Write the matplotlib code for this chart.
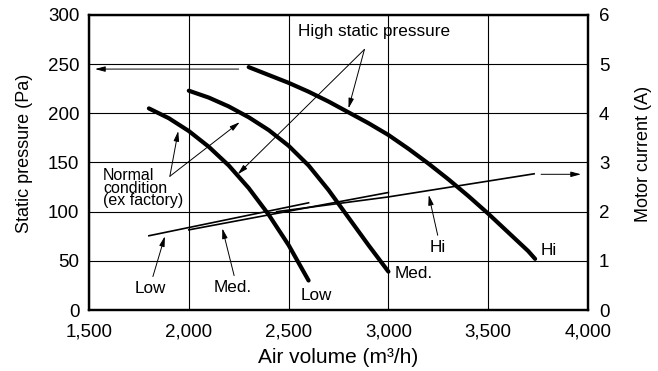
import matplotlib
matplotlib.use("Agg")
import matplotlib.pyplot as plt

# =========================
# DATA
# =========================
# fan curves: air volume (m3/h) vs static pressure (Pa)
low_air = [1800, 1900, 2000, 2100, 2200, 2300, 2400, 2500, 2600]
low_pressure = [205, 195, 182, 166, 147, 124, 97, 66, 30]

med_air = [2000, 2100, 2200, 2300, 2400, 2500, 2600, 2700, 2800, 2900, 3000]
med_pressure = [223, 216, 207, 196, 183, 167, 147, 122, 94, 66, 39]

hi_air = [2300, 2400, 2500, 2600, 2700, 2800, 2900, 3000, 3100, 3200, 3300,
          3400, 3500, 3600, 3700, 3735]
hi_pressure = [247, 239, 231, 222, 212, 201, 190, 178, 164, 149, 133,
               116, 98, 79, 60, 52]

# motor current (A)
low_cur_air = [1800, 2600]
low_current = [1.51, 2.18]

med_cur_air = [2000, 3000]
med_current = [1.63, 2.39]

hi_cur_air = [2440, 3000, 3730]
hi_current = [2.00, 2.30, 2.77]

x_ticks = [1500, 2000, 2500, 3000, 3500, 4000]
y_ticks = [0, 50, 100, 150, 200, 250, 300]
y2_ticks = [0, 1, 2, 3, 4, 5, 6]

# =========================
# STYLE
# =========================
plt.rcParams["font.family"] = ["Liberation Sans", "DejaVu Sans"]
TICK_FS = 13.5
LABEL_FS = 13
NOTE_FS = 12.3
ARROW = dict(arrowstyle="-|>,head_length=0.6,head_width=0.16",
             color="black", lw=0.7, shrinkA=0, shrinkB=0, mutation_scale=10)

fig = plt.figure(figsize=(6.58, 3.71), dpi=100)
ax = fig.add_axes([0.1353, 0.1644, 0.7583, 0.7952])
ax2 = ax.twinx()

# =========================
# CURVES
# =========================
for xs, ys in [(low_air, low_pressure), (med_air, med_pressure), (hi_air, hi_pressure)]:
    ax.plot(xs, ys, color="black", lw=3.0, solid_capstyle="round",
            solid_joinstyle="round", zorder=3)

for xs, ys in [(low_cur_air, low_current), (med_cur_air, med_current), (hi_cur_air, hi_current)]:
    ax2.plot(xs, ys, color="black", lw=1.2, zorder=3)

# =========================
# AXES
# =========================
ax.set_xlim(1500, 4000)
ax.set_ylim(0, 300)
ax2.set_ylim(0, 6)
ax.set_xticks(x_ticks)
ax.set_xticklabels([f"{v:,}" for v in x_ticks])
ax.set_yticks(y_ticks)
ax2.set_yticks(y2_ticks)

ax.grid(True, color="black", lw=0.8)
ax.set_axisbelow(True)
ax.tick_params(length=0, labelsize=TICK_FS)
ax.tick_params(axis="x", pad=10)
ax.tick_params(axis="y", pad=7)
ax2.tick_params(length=0, labelsize=TICK_FS, pad=8)

for a in (ax, ax2):
    for sp in a.spines.values():
        sp.set_linewidth(1.6)

ax.set_xlabel("Air volume (m³/h)", fontsize=15, labelpad=5)
ax.set_ylabel("Static pressure (Pa)", fontsize=LABEL_FS)
ax2.set_ylabel("Motor current (A)", fontsize=LABEL_FS)
ax.yaxis.set_label_coords(-0.112, 0.53)
ax2.yaxis.set_label_coords(1.094, 0.53)

# =========================
# ANNOTATIONS
# =========================
ax.text(2545, 283, "High static pressure", fontsize=NOTE_FS, ha="left", va="center")
ax.annotate("", xy=(2800, 205), xytext=(2880, 265), arrowprops=ARROW)
ax.annotate("", xy=(2245, 138), xytext=(2880, 265), arrowprops=ARROW)

ax.text(1570, 124, "Normal\ncondition\n(ex factory)", fontsize=11.5,
        ha="left", va="center", linespacing=0.82)
ax.annotate("", xy=(1947, 182), xytext=(1905, 136), arrowprops=ARROW)
ax.annotate("", xy=(2255, 191), xytext=(1905, 136), arrowprops=ARROW)

# axis pointers
ax.annotate("", xy=(1530, 245), xytext=(2250, 245), arrowprops=ARROW)
ax.annotate("", xy=(3965, 138), xytext=(3765, 138), arrowprops=ARROW)

# current line labels
ax.text(1805, 22, "Low", fontsize=NOTE_FS, ha="center", va="center")
ax.annotate("", xy=(1880, 75), xytext=(1820, 34), arrowprops=ARROW)
ax.text(2222, 23, "Med.", fontsize=NOTE_FS, ha="center", va="center")
ax.annotate("", xy=(2168, 83), xytext=(2227, 35), arrowprops=ARROW)
ax.text(3247, 64, "Hi", fontsize=NOTE_FS, ha="center", va="center")
ax.annotate("", xy=(3202, 117), xytext=(3247, 76), arrowprops=ARROW)

# pressure curve labels
ax.text(2640, 15, "Low", fontsize=NOTE_FS, ha="center", va="center")
ax.text(3030, 37, "Med.", fontsize=NOTE_FS, ha="left", va="center")
ax.text(3765, 61, "Hi", fontsize=NOTE_FS, ha="left", va="center")

plt.savefig("out.png", dpi=100)
